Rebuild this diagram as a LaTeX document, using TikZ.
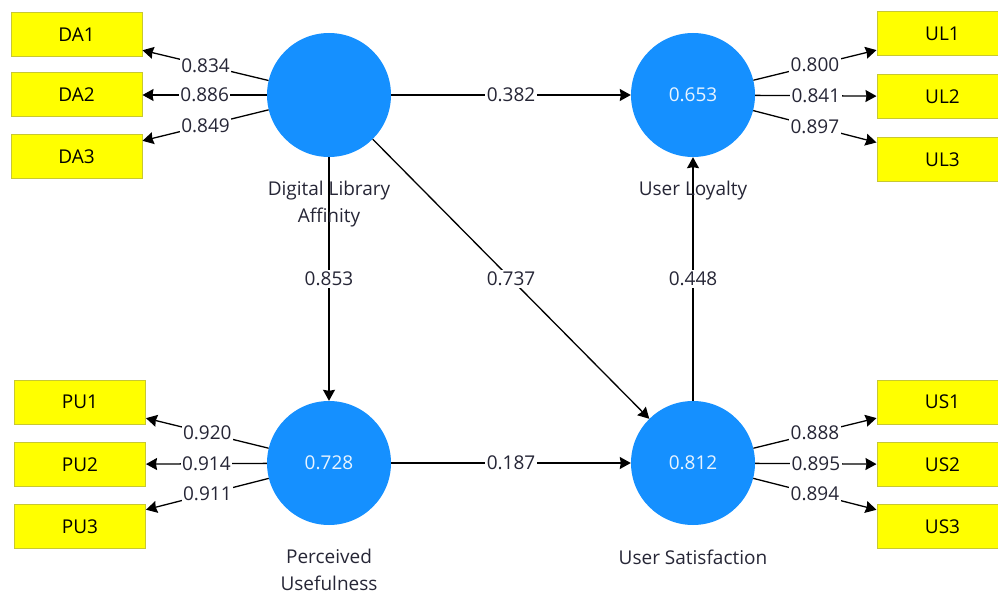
\documentclass[tikz,border=0pt]{standalone}
\usepackage{fontspec}
\setmainfont{Open Sans}
\usetikzlibrary{arrows.meta}
\definecolor{lvblue}{HTML}{1590FF}
\definecolor{boxyellow}{HTML}{FFFF00}
\definecolor{boxborder}{HTML}{C8C832}
\definecolor{labelc}{HTML}{262636}
\begin{document}
\begin{tikzpicture}[x=1pt,y=-1pt,
  latent/.style={circle,fill=lvblue,minimum size=124pt,inner sep=0pt,text=white!90!lvblue,font=\fontsize{19}{22}\selectfont},
  ind/.style={rectangle,fill=boxyellow,draw=boxborder,line width=1pt,minimum width=131pt,minimum height=44pt,inner sep=0pt,text=black,font=\fontsize{19}{22}\selectfont},
  lvname/.style={align=center,text=labelc,font=\fontsize{19}{27}\selectfont},
  arr/.style={-{Stealth[length=11pt,width=12pt,inset=1pt]},line width=1.3pt,draw=black},
  wt/.style={fill=white,inner sep=1.5pt,text=labelc,font=\fontsize{19}{22}\selectfont}
]
\clip (0,0) rectangle (998,593);
\fill[white] (0,0) rectangle (998,593);

% latent variables
\node[latent] (DLA) at (329,95) {};
\node[latent] (UL) at (693,95) {0.653};
\node[latent] (PU) at (329,463) {0.728};
\node[latent] (US) at (693,463) {0.812};

% indicators
\node[ind] (DA1) at (76.5,34.5) {DA1};
\node[ind] (DA2) at (76.5,95) {DA2};
\node[ind] (DA3) at (76.5,157) {DA3};
\node[ind] (PU1) at (80,402) {PU1};
\node[ind] (PU2) at (80,464.5) {PU2};
\node[ind] (PU3) at (80,526.5) {PU3};
\node[ind] (UL1) at (942.5,34) {UL1};
\node[ind] (UL2) at (942.5,96.5) {UL2};
\node[ind] (UL3) at (942.5,159.5) {UL3};
\node[ind] (US1) at (942.5,402) {US1};
\node[ind] (US2) at (942.5,464.5) {US2};
\node[ind] (US3) at (942.5,526.5) {US3};

% structural paths
\draw[arr] (DLA) -- node[wt] {0.382} (UL);
\draw[arr] (DLA) -- node[wt] {0.853} (PU);
\draw[arr] (DLA) -- node[wt] {0.737} (US);
\draw[arr] (US) -- node[wt] {0.448} (UL);
\draw[arr] (PU) -- node[wt] {0.187} (US);

% outer loadings
\draw[arr] (DLA) -- node[wt] {0.834} (DA1);
\draw[arr] (DLA) -- node[wt] {0.886} (DA2);
\draw[arr] (DLA) -- node[wt] {0.849} (DA3);
\draw[arr] (PU) -- node[wt] {0.920} (PU1);
\draw[arr] (PU) -- node[wt] {0.914} (PU2);
\draw[arr] (PU) -- node[wt] {0.911} (PU3);
\draw[arr] (UL) -- node[wt] {0.800} (UL1);
\draw[arr] (UL) -- node[wt] {0.841} (UL2);
\draw[arr] (UL) -- node[wt] {0.897} (UL3);
\draw[arr] (US) -- node[wt] {0.888} (US1);
\draw[arr] (US) -- node[wt] {0.895} (US2);
\draw[arr] (US) -- node[wt] {0.894} (US3);

% latent names (drawn over the lines, no fill)
\node[lvname] (nDLA) at (329,204) {Digital Library\\Affinity};
\node[lvname] (nUL) at (693,191) {User Loyalty};
\node[lvname] (nPU) at (329,570) {Perceived\\Usefulness};
\node[lvname] (nUS) at (693,557) {User Satisfaction};
\end{tikzpicture}
\end{document}
